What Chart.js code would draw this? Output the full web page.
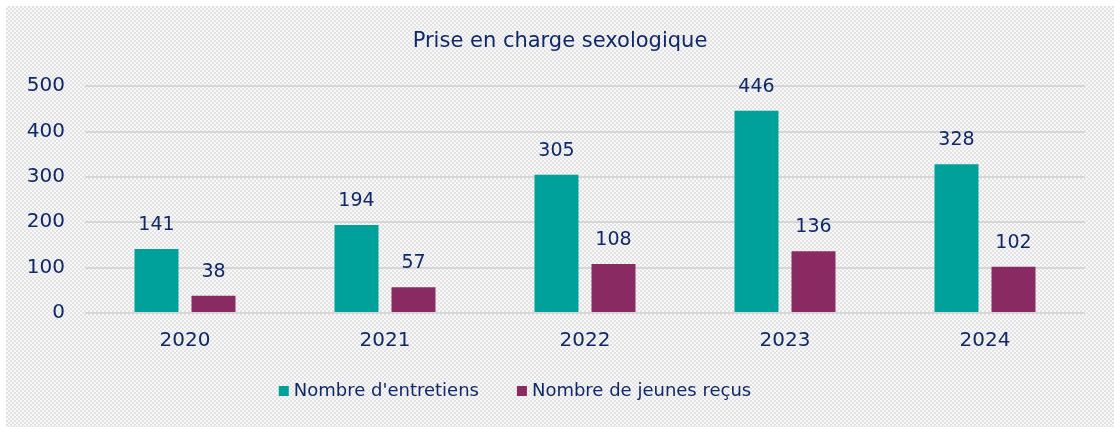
<!DOCTYPE html>
<html><head><meta charset="utf-8">
<script src="https://cdn.jsdelivr.net/npm/chart.js@4"></script>
<style>
html,body{margin:0;padding:0;background:#fff;}
#bg{position:absolute;left:6px;top:6px;width:1108px;height:421px;
background:repeating-conic-gradient(#e2e2e2 0 25%, #f8f8f8 0 50%) 0 0/4px 4px;}
#wrap{position:absolute;left:0;top:0;width:1114px;height:427px;}
</style></head>
<body>
<div id="bg"></div>
<div id="wrap"><canvas id="c" width="1114" height="427"></canvas></div>
<script>
const categories = ['2020','2021','2022','2023','2024'];
const entretiens = [141,194,305,446,328];
const jeunes = [38,57,108,136,102];
const seriesNames = ["Nombre d'entretiens","Nombre de jeunes reçus"];
const seriesColors = ['#00a19a','#8a2a63'];
const yTicks = [0,100,200,300,400,500];
const titleText = 'Prise en charge sexologique';

const NAVY = '#0f2868';
const FONT = "'DejaVu Sans', sans-serif";

const labelPlugin = {
  id:'valueLabels',
  afterDatasetsDraw(chart){
    const ctx = chart.ctx;
    ctx.save();
    ctx.fillStyle = NAVY;
    ctx.font = "19px " + FONT;
    ctx.textAlign = 'center';
    ctx.textBaseline = 'middle';
    chart.data.datasets.forEach((ds,i)=>{
      chart.getDatasetMeta(i).data.forEach((bar,j)=>{
        ctx.fillText(String(ds.data[j]), bar.x, bar.y - 24);
      });
    });
    ctx.restore();
  }
};

// legend drawn below the x axis, from the dataset labels and colours
const legendPlugin = {
  id:'bottomLegend',
  afterDraw(chart){
    const ctx = chart.ctx;
    ctx.save();
    ctx.font = "18px " + FONT;
    ctx.textBaseline = 'middle';
    const box = 10, gapBox = 5, gapItem = 38;
    const items = chart.data.datasets.map(ds=>({text:ds.label,color:ds.backgroundColor,w:ctx.measureText(ds.label).width}));
    const total = items.reduce((s,it)=>s+box+gapBox+it.w,0) + gapItem*(items.length-1);
    const cy = chart.height - 36;
    let x = (chart.chartArea.left + chart.chartArea.right)/2 - 70 - total/2;
    items.forEach(it=>{
      ctx.fillStyle = it.color;
      ctx.fillRect(x, cy - box/2, box, box);
      ctx.fillStyle = NAVY;
      ctx.fillText(it.text, x + box + gapBox, cy);
      x += box + gapBox + it.w + gapItem;
    });
    ctx.restore();
  }
};

new Chart(document.getElementById('c'), {
  type:'bar',
  data:{
    labels: categories,
    datasets:[
      {label: seriesNames[0], data: entretiens, backgroundColor: seriesColors[0]},
      {label: seriesNames[1], data: jeunes, backgroundColor: seriesColors[1]}
    ]
  },
  options:{
    responsive:false,
    animation:false,
    devicePixelRatio:1,
    categoryPercentage:0.57,
    barPercentage:0.772,
    layout:{padding:{left:6,right:0,top:0,bottom:58}},
    plugins:{
      title:{display:true,text:titleText,color:NAVY,
        font:{family:FONT,size:21,weight:'normal'},padding:{top:29,bottom:32}},
      legend:{display:false},
      tooltip:{enabled:false}
    },
    scales:{
      x:{grid:{display:false,drawTicks:false},border:{display:false},
        ticks:{color:NAVY,font:{family:FONT,size:20,weight:'normal'},padding:16}},
      y:{min:0,max:500,
        afterFit(s){s.width=79;},
        afterBuildTicks(s){s.ticks = yTicks.map(v=>({value:v}));},
        grid:{color:'#d6d6d6',lineWidth:2,drawTicks:false},
        border:{display:false},
        ticks:{color:NAVY,font:{family:FONT,size:20,weight:'normal'},padding:20}},
      yRight:{position:'right',min:0,max:500,
        afterFit(s){s.width=29;},
        grid:{display:false,drawTicks:false},border:{display:false},
        ticks:{display:false}}
    }
  },
  plugins:[labelPlugin, legendPlugin]
});
</script>
</body></html>
